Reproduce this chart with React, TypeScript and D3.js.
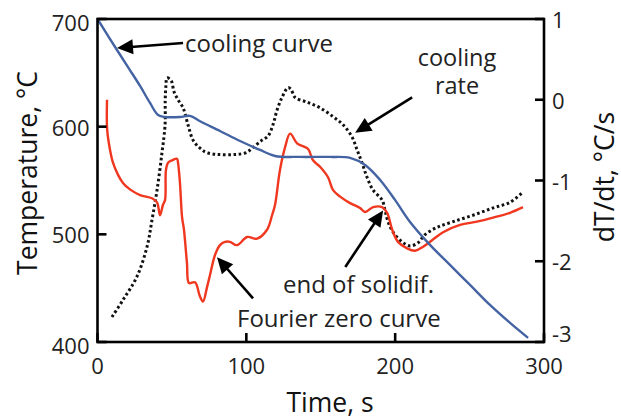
import React from "react";
import * as d3 from "d3";

// Cooling curve: temperature (°C) vs time (s), left axis
const coolTime = [0, 13.1, 21.8, 28.6, 35.3, 40.7, 45.4, 55.4, 62.2, 68.9, 82.3, 95.8, 109.2, 119.3, 136.1, 156.3, 169.7, 179.8, 189.9, 199.9, 210, 223.4, 236.8, 250.3, 263.7, 277.2, 289.3];
const coolTemp = [700, 671.2, 652.6, 637.8, 622, 610.9, 609, 609, 610, 605, 596, 586.7, 578.4, 572.8, 571.9, 571.9, 571, 564.4, 550.5, 532, 511.5, 490.2, 471.6, 453, 434.4, 417.7, 403.8];

// Fourier zero curve: dT/dt (°C/s), right axis
const zeroTime = [6.4, 6.5, 8.4, 10.4, 13.8, 17.1, 21.8, 28.6, 36.6, 40.0, 42.0, 44.0, 45.4, 46.0, 47.4, 50.1, 53.4, 54.1, 55.4, 56.8, 58.1, 60.1, 61.5, 65.5, 68.9, 70.9, 73.6, 75.6, 79.0, 82.3, 85.7, 89.0, 93.8, 100.5, 107.2, 113.9, 117.3, 119.3, 122.6, 126.0, 129.4, 134.1, 137.4, 141.5, 144.8, 149.5, 154.9, 158.3, 163.0, 169.7, 176.4, 179.8, 185.2, 191.2, 194.6, 198.0, 201.9, 208.0, 213.4, 218.8, 224.8, 232.2, 243.6, 255.0, 265.8, 277.2, 285.9];
const zeroRate = [0.0, -0.37, -0.62, -0.78, -0.93, -1.03, -1.11, -1.18, -1.22, -1.27, -1.43, -1.3, -1.24, -0.87, -0.78, -0.75, -0.73, -0.78, -1.03, -1.45, -1.61, -2.02, -2.27, -2.26, -2.44, -2.5, -2.32, -2.17, -1.92, -1.8, -1.76, -1.76, -1.8, -1.7, -1.72, -1.61, -1.43, -1.3, -0.87, -0.59, -0.42, -0.54, -0.57, -0.61, -0.75, -0.83, -0.96, -1.12, -1.2, -1.28, -1.34, -1.39, -1.33, -1.33, -1.4, -1.61, -1.76, -1.84, -1.87, -1.82, -1.74, -1.64, -1.55, -1.51, -1.46, -1.4, -1.33];

// Cooling rate: dT/dt (°C/s), right axis
const rateTime = [9.7, 17.1, 26.5, 33.3, 36.6, 40.0, 43.3, 45.4, 45.5, 46.0, 46.7, 49.4, 51.4, 54.1, 57.5, 60.8, 64.2, 68.9, 74.3, 99.1, 104.5, 110.5, 114.6, 117.9, 120.6, 124.0, 128.0, 130.0, 132.7, 140.8, 149.5, 158.3, 165.0, 171.0, 174.4, 177.7, 181.1, 185.2, 191.2, 193.2, 195.2, 198.6, 204.6, 210.0, 215.4, 220.1, 228.2, 238.9, 252.3, 265.8, 277.2, 286.0];
const rateValue = [-2.69, -2.48, -2.19, -1.82, -1.49, -1.12, -0.66, -0.31, 0.0, 0.18, 0.27, 0.24, 0.1, 0.0, -0.1, -0.31, -0.5, -0.6, -0.66, -0.66, -0.59, -0.5, -0.45, -0.31, -0.13, 0.03, 0.15, 0.13, 0.03, -0.03, -0.1, -0.21, -0.31, -0.46, -0.62, -0.78, -0.96, -1.12, -1.24, -1.37, -1.51, -1.64, -1.76, -1.81, -1.77, -1.67, -1.58, -1.51, -1.43, -1.34, -1.27, -1.14];

const timeTicks = [0, 100, 200, 300];
const tempTicks = [400, 500, 600, 700];
const rateTicks = [-3, -2, -1, 0, 1];

const W = 621;
const H = 419;
const left = 97.5;
const right = 544;
const top = 19;
const bottom = 342;
const FONT = "'Open Sans', 'Noto Sans', sans-serif";

const x = d3.scaleLinear().domain([0, 300]).range([left, right]);
const yT = d3.scaleLinear().domain([400, 700]).range([bottom, top]);
const yR = d3.scaleLinear().domain([-3, 1]).range([bottom, top]);

const zip = (a: number[], b: number[]) => a.map((v, i) => [v, b[i]] as [number, number]);

const tempLine = d3
  .line<[number, number]>()
  .x((d) => x(d[0]))
  .y((d) => yT(d[1]))
  .curve(d3.curveCatmullRom.alpha(0.5));

const rateLine = d3
  .line<[number, number]>()
  .x((d) => x(d[0]))
  .y((d) => yR(d[1]))
  .curve(d3.curveCatmullRom.alpha(0.5));

type Arrow = { x1: number; y1: number; x2: number; y2: number };

function ArrowMark({ x1, y1, x2, y2 }: Arrow) {
  const len = 16;
  const half = 7.5;
  const dx = x2 - x1;
  const dy = y2 - y1;
  const d = Math.hypot(dx, dy);
  const ux = dx / d;
  const uy = dy / d;
  const bx = x2 - ux * len;
  const by = y2 - uy * len;
  const pts = [
    [x2, y2],
    [bx - uy * half, by + ux * half],
    [bx + uy * half, by - ux * half],
  ];
  return (
    <g>
      <line x1={x1} y1={y1} x2={bx + ux * 2} y2={by + uy * 2} stroke="#000" strokeWidth={2.6} />
      <polygon points={pts.map((p) => p.join(",")).join(" ")} fill="#000" />
    </g>
  );
}

// small vertical nudges for the end labels of each axis
const leftLabelShift = (v: number) => (v === 400 || v === 700 ? 3 : 0);
const rightLabelShift = (v: number) => (v === -3 ? -9 : 0);

export default function App() {
  const arrows: Arrow[] = [
    { x1: x(57.5), y1: yT(677.7), x2: x(13.1), y2: yT(673) },
    { x1: x(211.4), y1: yR(0.03), x2: x(173.1), y2: yR(-0.41) },
    { x1: x(166.5), y1: yR(-2.07), x2: x(191.9), y2: yR(-1.37) },
    { x1: x(104.5), y1: yR(-2.46), x2: x(80.3), y2: yR(-1.95) },
  ];

  return (
    <svg
      width={W}
      height={H}
      viewBox={`0 0 ${W} ${H}`}
      style={{ position: "absolute", left: 0, top: 0, background: "#fff" }}
      fontFamily={FONT}
    >
      <rect x={0} y={0} width={W} height={H} fill="#fff" />

      {/* data lines */}
      <path d={rateLine(zip(rateTime, rateValue)) || ""} fill="none" stroke="#111" strokeWidth={3} strokeDasharray="2.6 2.6" />
      <path d={rateLine(zip(zeroTime, zeroRate)) || ""} fill="none" stroke="#f0371f" strokeWidth={2.4} />
      <path d={tempLine(zip(coolTime, coolTemp)) || ""} fill="none" stroke="#4463a3" strokeWidth={2.4} />

      {/* frame */}
      <rect x={left} y={top} width={right - left} height={bottom - top} fill="none" stroke="#000" strokeWidth={2.6} />

      {/* left axis */}
      {tempTicks.map((v) => (
        <g key={`t${v}`}>
          <line x1={left} x2={left + 9} y1={yT(v)} y2={yT(v)} stroke="#000" strokeWidth={2.6} />
          <text x={left - 8} y={yT(v) + leftLabelShift(v)} textAnchor="end" dominantBaseline="central" fontSize={22} fill="#222">
            {v}
          </text>
        </g>
      ))}

      {/* right axis */}
      {rateTicks.map((v) => (
        <g key={`r${v}`}>
          <line x1={right - 9} x2={right} y1={yR(v)} y2={yR(v)} stroke="#000" strokeWidth={2.6} />
          <text x={right + 8} y={yR(v) + rightLabelShift(v)} textAnchor="start" dominantBaseline="central" fontSize={22} fill="#222">
            {v < 0 ? `-${Math.abs(v)}` : v}
          </text>
        </g>
      ))}

      {/* bottom axis */}
      {timeTicks.map((v) => (
        <g key={`x${v}`}>
          <line x1={x(v)} x2={x(v)} y1={bottom} y2={bottom - 9} stroke="#000" strokeWidth={2.6} />
          <text x={x(v)} y={374} textAnchor="middle" fontSize={22} fill="#222">
            {v}
          </text>
        </g>
      ))}

      {/* axis titles */}
      <text x={330} y={412} textAnchor="middle" fontSize={26.5} fill="#111">
        Time, s
      </text>
      <text transform={`translate(37,173) rotate(-90)`} textAnchor="middle" fontSize={26.5} fill="#111">
        Temperature, °C
      </text>
      <text transform={`translate(614,177) rotate(-90)`} textAnchor="middle" fontSize={26.5} fill="#111">
        dT/dt, °C/s
      </text>

      {/* annotations */}
      {arrows.map((a, i) => (
        <ArrowMark key={i} {...a} />
      ))}
      <text x={185} y={52} fontSize={24} fill="#222">cooling curve</text>
      <text x={457} y={66} textAnchor="middle" fontSize={23.5} fill="#222">
        <tspan x={457} y={66}>cooling</tspan>
        <tspan x={457} y={94}>rate</tspan>
      </text>
      <text x={283} y={293} fontSize={24} fill="#222">end of solidif.</text>
      <text x={237} y={327} fontSize={24} fill="#222">Fourier zero curve</text>
    </svg>
  );
}
